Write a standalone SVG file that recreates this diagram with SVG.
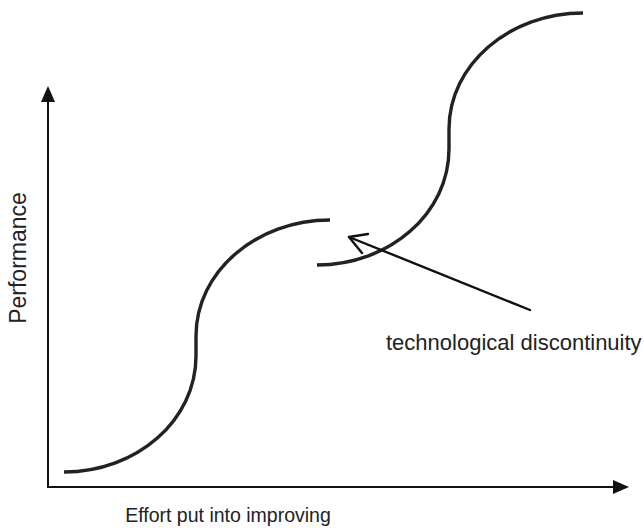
<svg xmlns="http://www.w3.org/2000/svg" width="644" height="528" viewBox="0 0 644 528">
<style>
.curve{fill:none;stroke:#222;stroke-width:3.4;stroke-linecap:butt}
.axis{fill:none;stroke:#111;stroke-width:2}
.head{fill:#111;stroke:none}
.ptr{fill:none;stroke:#111;stroke-width:2.4;stroke-linecap:round;stroke-linejoin:round}
.lbl{font-family:"Liberation Sans",Arial,sans-serif;font-size:22px;fill:#222}
.lbl2{font-family:"Liberation Sans",Arial,sans-serif;font-size:19.5px;fill:#222}
</style>
<rect width="644" height="528" fill="#fff"/>
<g id="axes">
<path class="axis" d="M48,488 V100"/>
<polygon class="head" points="48,86 41,102 55,102"/>
<path class="axis" d="M47,487 H615"/>
<polygon class="head" points="629,487 613,480 613,494"/>
</g>
<g id="curve1">
<path class="curve" d="M64,472 C136.9,472 196,420.1 196,356 L196,336 C196,271.9 256,220 330,220"/>
</g>
<g id="curve2">
<path class="curve" d="M317,265 C389.9,265 449,213.1 449,149 L449,129 C449,64.9 509,13 583,13"/>
</g>
<g id="connectors">
<path class="ptr" d="M530,310 L349,237"/>
<path class="ptr" d="M368,234 L349,237 L362,253"/>
</g>
<g id="labels">
<text class="lbl" style="font-size:23px" transform="translate(26,258) rotate(-90)" text-anchor="middle">Performance</text>
<text class="lbl2" x="228" y="522" text-anchor="middle">Effort put into improving</text>
<text class="lbl" x="386" y="350">technological discontinuity</text>
</g>
</svg>
